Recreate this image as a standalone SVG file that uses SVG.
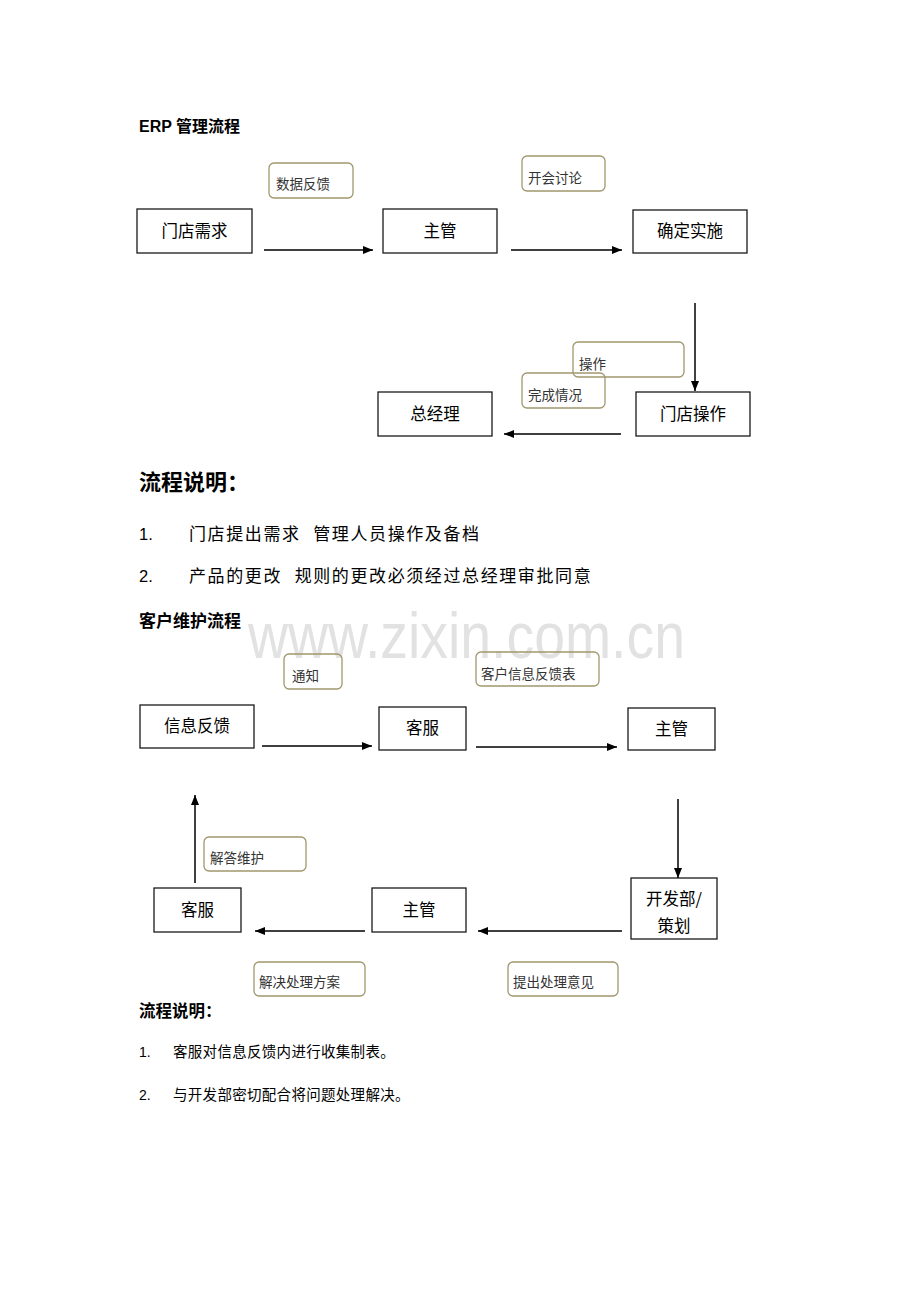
<svg xmlns="http://www.w3.org/2000/svg" width="920" height="1302" viewBox="0 0 920 1302">
<style>
.bg{fill:#ffffff}
.node rect{fill:none;stroke:#1a1a1a;stroke-width:1.3}
.node text{font-family:"Noto Sans CJK SC",sans-serif;font-size:16.5px;fill:#000;text-anchor:middle}
.lbl rect{fill:none;stroke:#a0976e;stroke-width:1.3}
.lbl text{font-family:"Noto Sans CJK SC",sans-serif;font-size:13.5px;fill:#333}
.conn line{stroke:#000;stroke-width:1.5;fill:none}
.h{font-family:"Liberation Sans","Noto Sans CJK SC",sans-serif;font-weight:bold;fill:#000}
.p{font-family:"Liberation Sans","Noto Sans CJK SC",sans-serif;fill:#000}
.wm{font-family:"Liberation Sans",sans-serif;fill:#e2e2e2}
</style>
<defs>
<marker id="ah" markerUnits="userSpaceOnUse" markerWidth="11" markerHeight="9" refX="10" refY="4" orient="auto">
<path d="M0,0 L10,4 L0,8 z" fill="#000"/>
</marker>
</defs>
<rect class="bg" x="0" y="0" width="920" height="1302"/>

<text class="wm" x="248" y="658" font-size="64" textLength="437" lengthAdjust="spacingAndGlyphs">www.zixin.com.cn</text>

<!-- headings and notes -->
<text class="h" x="139" y="132" font-size="16">ERP 管理流程</text>
<text class="h" x="139" y="490" font-size="22">流程说明：</text>
<text class="p" x="139" y="540" font-size="16.5">1.</text>
<text class="p" x="189" y="540" font-size="17" letter-spacing="1.6">门店提出需求&#160; 管理人员操作及备档</text>
<text class="p" x="139" y="582" font-size="16.5">2.</text>
<text class="p" x="189" y="582" font-size="17" letter-spacing="1.6">产品的更改&#160; 规则的更改必须经过总经理审批同意</text>
<text class="h" x="139" y="627" font-size="17">客户维护流程</text>
<text class="h" x="139" y="1017" font-size="16.5">流程说明：</text>
<text class="p" x="139" y="1057" font-size="14">1.</text>
<text class="p" x="173" y="1057" font-size="14.5" letter-spacing="0.3">客服对信息反馈内进行收集制表。</text>
<text class="p" x="139" y="1100" font-size="14">2.</text>
<text class="p" x="173" y="1100" font-size="14.5" letter-spacing="0.3">与开发部密切配合将问题处理解决。</text>

<!-- connectors -->
<g id="connectors" class="conn">
<line x1="264" y1="250" x2="373" y2="250" marker-end="url(#ah)"/>
<line x1="511" y1="250" x2="622" y2="250" marker-end="url(#ah)"/>
<line x1="695" y1="303" x2="695" y2="391" marker-end="url(#ah)"/>
<line x1="621" y1="434" x2="504" y2="434" marker-end="url(#ah)"/>
<line x1="262" y1="746" x2="372" y2="746" marker-end="url(#ah)"/>
<line x1="476" y1="747" x2="617" y2="747" marker-end="url(#ah)"/>
<line x1="678" y1="799" x2="678" y2="878" marker-end="url(#ah)"/>
<line x1="622" y1="931" x2="478" y2="931" marker-end="url(#ah)"/>
<line x1="365" y1="931" x2="255" y2="931" marker-end="url(#ah)"/>
<line x1="195" y1="883" x2="195" y2="795" marker-end="url(#ah)"/>
</g>

<!-- ERP nodes -->
<g id="n-mendianxuqiu" class="node"><rect x="137" y="209" width="115" height="44"/><text x="194.5" y="237">门店需求</text></g>
<g id="n-zhuguan1" class="node"><rect x="383" y="209" width="114" height="44"/><text x="440" y="237">主管</text></g>
<g id="n-quedingshishi" class="node"><rect x="633" y="210" width="114" height="43"/><text x="690" y="237">确定实施</text></g>
<g id="n-mendiancaozuo" class="node"><rect x="636" y="392" width="114" height="44"/><text x="693" y="420">门店操作</text></g>
<g id="n-zongjingli" class="node"><rect x="378" y="392" width="114" height="44"/><text x="435" y="420">总经理</text></g>

<!-- ERP labels -->
<g id="l-shujufankui" class="lbl"><rect x="269" y="163" width="84" height="35" rx="5"/><text x="276" y="189">数据反馈</text></g>
<g id="l-kaihuitaolun" class="lbl"><rect x="522" y="156" width="83" height="35" rx="5"/><text x="528" y="183">开会讨论</text></g>
<g id="l-caozuo" class="lbl"><rect x="573" y="342" width="111" height="35" rx="5"/><text x="579" y="369">操作</text></g>
<g id="l-wanchengqingkuang" class="lbl"><rect x="522" y="373" width="83" height="35" rx="5"/><text x="528" y="400">完成情况</text></g>

<!-- customer nodes -->
<g id="n-xinxifankui" class="node"><rect x="140" y="705" width="114" height="43"/><text x="197" y="732" font-size="17">信息反馈</text></g>
<g id="n-kefu1" class="node"><rect x="379" y="707" width="87" height="43"/><text x="422.5" y="734" font-size="17">客服</text></g>
<g id="n-zhuguan2" class="node"><rect x="628" y="708" width="87" height="42"/><text x="671.5" y="735" font-size="17">主管</text></g>
<g id="n-kaifabu" class="node"><rect x="631" y="878" width="86" height="61"/><text x="674" y="905" font-size="17">开发部/</text><text x="674" y="932" font-size="17">策划</text></g>
<g id="n-zhuguan3" class="node"><rect x="372" y="888" width="94" height="44"/><text x="419" y="916" font-size="17">主管</text></g>
<g id="n-kefu2" class="node"><rect x="154" y="888" width="87" height="44"/><text x="197.5" y="916" font-size="17">客服</text></g>

<!-- customer labels -->
<g id="l-tongzhi" class="lbl"><rect x="284" y="654" width="58" height="35" rx="5"/><text x="292" y="681">通知</text></g>
<g id="l-kehuxinxi" class="lbl"><rect x="476" y="652" width="123" height="34" rx="5"/><text x="481" y="679">客户信息反馈表</text></g>
<g id="l-jiedaweihu" class="lbl"><rect x="204" y="837" width="102" height="34" rx="5"/><text x="210" y="863">解答维护</text></g>
<g id="l-jiejue" class="lbl"><rect x="254" y="962" width="111" height="34" rx="5"/><text x="259" y="987">解决处理方案</text></g>
<g id="l-tichu" class="lbl"><rect x="508" y="962" width="110" height="34" rx="5"/><text x="513" y="987">提出处理意见</text></g>
</svg>
